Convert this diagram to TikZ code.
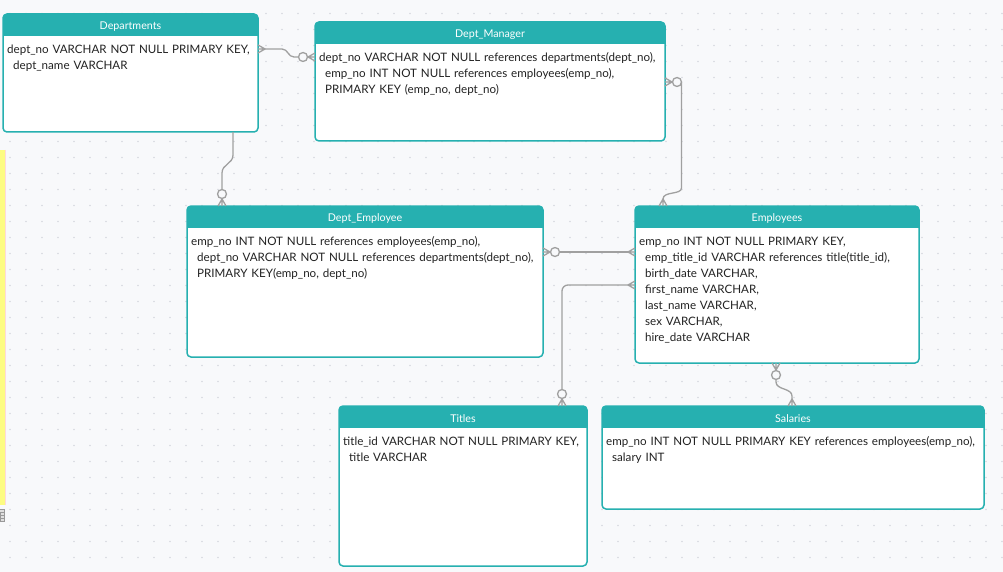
\documentclass[tikz,border=0pt]{standalone}
\usepackage{fontspec}
\setmainfont{Lato}
\usetikzlibrary{calc}

\definecolor{erteal}{RGB}{38,176,176}
\definecolor{canvasbg}{RGB}{248,249,251}
\definecolor{griddot}{RGB}{214,217,223}
\definecolor{linkgray}{RGB}{160,160,160}
\definecolor{bodyink}{RGB}{34,34,34}
\definecolor{notestrip}{RGB}{253,252,130}

\tikzset{
  tbl/.style={rectangle, fill=white, draw=none, anchor=north west, inner sep=0pt, outer sep=0pt},
  tblframe/.style={draw=erteal, line width=1.5pt, rounded corners=4pt},
  hdrfill/.style={fill=erteal},
  hdrtext/.style={text=white, font=\fontsize{10.7}{12}\selectfont, inner sep=0pt},
  bodytext/.style={anchor=north west, inner sep=0pt, align=left, text=bodyink,
    font=\fontsize{11.6}{16}\selectfont},
  conn/.style={draw=linkgray, line width=1.3pt},
  crowfoot/.pic={\draw[conn, line join=round] (0,-4) -- (7,0) -- (0,4) (0,0) -- (7,0);},
  crowring/.pic={\draw[conn, line join=round] (0,-4) -- (7,0) -- (0,4) (0,0) -- (7.5,0);
                 \draw[conn, fill=canvasbg] (12,0) circle (4.5);}
}

% table: name, x, y, width, height, title, body lines
\newcommand\ertable[7]{%
  \node[tbl, minimum width=#4pt, minimum height=#5pt] (#1) at (#2,#3) {};
  \begin{scope}
    \clip[rounded corners=4pt] (#1.north west) rectangle (#1.south east);
    \fill[hdrfill] (#1.north west) rectangle ($(#1.north east)+(0,22)$);
  \end{scope}
  \draw[tblframe] (#1.north west) rectangle (#1.south east);
  \node[hdrtext] (#1-title) at ($(#1.north)+(0,12.5)$) {#6};
  \node[bodytext, text width=#4pt-8pt] (#1-body) at ($(#1.north west)+(4,29)$)
    {\rule{0pt}{10pt}#7};
}
\newcommand\ind{\hspace*{6pt}}

\begin{document}
\begin{tikzpicture}[x=1pt, y=-1pt]
  % canvas with dotted grid
  \fill[canvasbg] (0,0) rectangle (1003,572);
  \useasboundingbox (0,0) rectangle (1003,572);
  \foreach \gx in {10,26,...,1002} {
    \foreach \gy in {13.5,29.5,...,571} {
      \fill[griddot] (\gx,\gy) circle (0.9);
    }
  }
  % note strip at the left edge
  \fill[notestrip] (0,150) rectangle (4.5,505);
  \draw[white!85!red, line width=0.6pt] (5,150) -- (5,505);
  \fill[gray!25] (-5,509) rectangle (5,521);
  \draw[gray!80, line width=0.5pt] (-5,509) rectangle (4.5,521)
        (-5,512.5) -- (4.5,512.5) (-5,515.5) -- (4.5,515.5) (-5,518.5) -- (4.5,518.5)
        (0,512.5) -- (0,521);

  % tables
  \ertable{dep}{3}{14}{255}{118}{Departments}%
    {dept\_no VARCHAR NOT NULL PRIMARY KEY,\\
     \ind dept\_name VARCHAR}
  \ertable{mgr}{315}{22}{350}{119}{Dept\_Manager}%
    {dept\_no VARCHAR NOT NULL references departments(dept\_no),\\
     \ind emp\_no INT NOT NULL references employees(emp\_no),\\
     \ind PRIMARY KEY (emp\_no, dept\_no)}
  \ertable{demp}{187}{206}{356}{151}{Dept\_Employee}%
    {emp\_no INT NOT NULL references employees(emp\_no),\\
     \ind dept\_no VARCHAR NOT NULL references departments(dept\_no),\\
     \ind PRIMARY KEY(emp\_no, dept\_no)}
  \ertable{emp}{635}{206}{284}{157}{Employees}%
    {emp\_no INT NOT NULL PRIMARY KEY,\\
     \ind emp\_title\_id VARCHAR references title(title\_id),\\
     \ind birth\_date VARCHAR,\\
     \ind first\_name VARCHAR,\\
     \ind last\_name VARCHAR,\\
     \ind sex VARCHAR,\\
     \ind hire\_date VARCHAR}
  \ertable{tit}{339}{406}{248}{160}{Titles}%
    {title\_id VARCHAR NOT NULL PRIMARY KEY,\\
     \ind title VARCHAR}
  \ertable{sal}{602}{406}{382}{103}{Salaries}%
    {emp\_no INT NOT NULL PRIMARY KEY references employees(emp\_no),\\
     \ind salary INT}

  % Departments -> Dept_Manager
  \coordinate (c1a) at ($(dep.north east)+(0,35)$);
  \coordinate (c1b) at ($(mgr.north west)+(0,35)$);
  \draw[conn] ($(c1a)+(7,0)$) -- ($(c1a)+(24,0)$)
     .. controls ($(c1a)+(30,0)$) and ($(c1b)+(-27,0)$) .. ($(c1b)+(-21,0)$)
     -- ($(c1b)+(-16.5,0)$);
  \pic at (c1a) {crowfoot};
  \pic[rotate=180] at (c1b) {crowring};

  % Departments -> Dept_Employee
  \coordinate (c2a) at ($(dep.south west)+(230,0)$);
  \coordinate (c2b) at ($(demp.north west)+(35,0)$);
  \draw[conn] (c2a) -- ($(c2a)+(0,23)$)
     .. controls ($(c2a)+(0,32)$) and ($(c2b)+(0,-42)$) .. ($(c2b)+(0,-33)$)
     -- ($(c2b)+(0,-16.5)$);
  \pic[rotate=90] at (c2b) {crowring};

  % Dept_Manager -> Employees
  \coordinate (c3a) at ($(mgr.north east)+(0,60)$);
  \coordinate (c3b) at ($(emp.north west)+(28,0)$);
  \draw[conn] ($(c3a)+(16.5,0)$) -- ($(c3a)+(16.5,106)$)
     .. controls ($(c3a)+(16.5,113)$) and ($(c3b)+(0,-15)$) .. ($(c3b)+(0,-7)$);
  \pic at (c3a) {crowring};
  \pic[rotate=90] at (c3b) {crowfoot};

  % Dept_Employee -> Employees
  \coordinate (c4a) at ($(demp.north east)+(0,46)$);
  \coordinate (c4b) at ($(emp.north west)+(0,46)$);
  \draw[conn] ($(c4a)+(16.5,0)$) -- ($(c4b)+(-7,0)$);
  \pic at (c4a) {crowring};
  \pic[rotate=180] at (c4b) {crowfoot};

  % Employees -> Titles
  \coordinate (c5a) at ($(emp.north west)+(0,79)$);
  \coordinate (c5b) at ($(tit.north west)+(223,0)$);
  \draw[conn, rounded corners=6pt] ($(c5a)+(-7,0)$) -| ($(c5b)+(0,-16.5)$);
  \pic[rotate=180] at (c5a) {crowfoot};
  \pic[rotate=90] at (c5b) {crowring};

  % Employees -> Salaries
  \coordinate (c6a) at ($(emp.south west)+(141,0)$);
  \coordinate (c6b) at ($(sal.north west)+(190,0)$);
  \draw[conn] ($(c6a)+(0,16.5)$) -- ($(c6a)+(0,19)$)
     .. controls ($(c6a)+(0,27)$) and ($(c6b)+(0,-18)$) .. ($(c6b)+(0,-10)$)
     -- ($(c6b)+(0,-7)$);
  \pic[rotate=-90] at (c6a) {crowring};
  \pic[rotate=90] at (c6b) {crowfoot};
\end{tikzpicture}
\end{document}
